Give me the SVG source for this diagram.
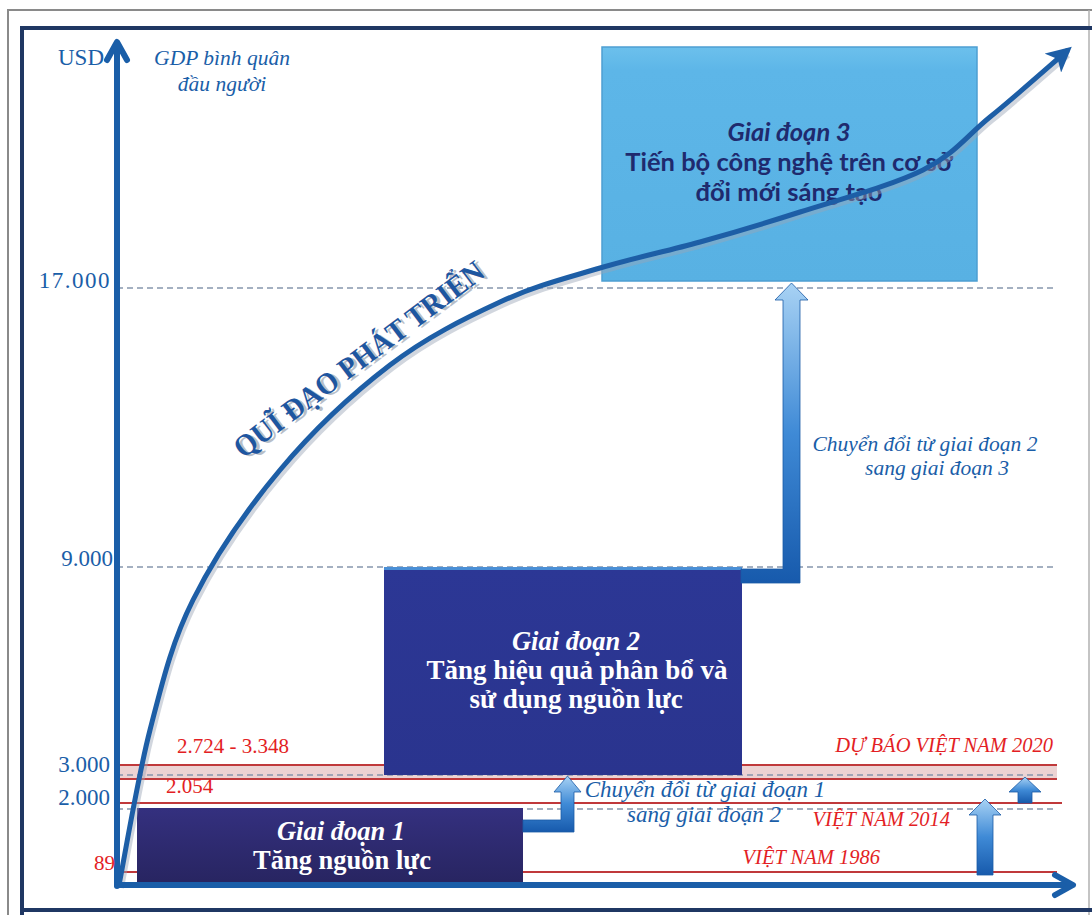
<svg xmlns="http://www.w3.org/2000/svg" width="1092" height="915" viewBox="0 0 1092 915">
<defs>
<style>
.tick{font-family:"Liberation Serif",serif;font-size:23px;fill:#1a5ea8}
.red{font-family:"Liberation Serif",serif;font-size:21px;fill:#e31e24}
.redi{font-family:"Liberation Serif",serif;font-size:20.5px;fill:#e31e24;font-style:italic}
.bluei{font-family:"Liberation Serif",serif;font-size:23px;fill:#1a5ea8;font-style:italic}
.bluei2{font-family:"Liberation Serif",serif;font-size:21.5px;fill:#1a5ea8;font-style:italic}
.gdp{font-family:"Liberation Serif",serif;font-size:21.5px;fill:#1a5ea8;font-style:italic;text-anchor:middle}
.wt{font-family:"Liberation Serif",serif;font-weight:bold;fill:#ffffff;text-anchor:middle}
.s3{font-family:Lato,"Open Sans",sans-serif;font-weight:bold;font-size:25.5px;fill:#1f2a6e;text-anchor:middle}
.dash{stroke:#8797ad;stroke-width:1.6;stroke-dasharray:6 4;fill:none}
.rl{stroke:#c0393b;stroke-width:2;fill:none}
.tarrow{fill:url(#ag);stroke:#1b5aa6;stroke-width:0.8}
.traj{font-family:"Liberation Serif",serif;font-weight:bold;font-size:30px}
</style>
<linearGradient id="ag" x1="0" y1="0" x2="0" y2="1">
<stop offset="0" stop-color="#a8d2f4"/>
<stop offset="0.5" stop-color="#3f8ad6"/>
<stop offset="1" stop-color="#175aac"/>
</linearGradient>
<linearGradient id="g1" x1="0" y1="0" x2="0" y2="1">
<stop offset="0" stop-color="#34307f"/>
<stop offset="1" stop-color="#27245f"/>
</linearGradient>
<linearGradient id="g2" x1="0" y1="0" x2="0" y2="1">
<stop offset="0" stop-color="#2c3795"/>
<stop offset="1" stop-color="#2a348e"/>
</linearGradient>
<linearGradient id="g3" x1="0" y1="0" x2="0" y2="1">
<stop offset="0" stop-color="#6cc0ec"/>
<stop offset="0.1" stop-color="#5db6e8"/>
<stop offset="1" stop-color="#58b1e3"/>
</linearGradient>
<marker id="head" viewBox="0 0 10 10" refX="8" refY="5" markerWidth="5" markerHeight="5" orient="auto" markerUnits="strokeWidth">
<path d="M0,0 L10,5 L0,10 L2.5,5 Z" fill="#1d5ea6"/>
</marker>
</defs>
<rect width="1092" height="915" fill="#ffffff"/>
<!-- frame -->
<g id="frame">
<path d="M8,915 V10 H1092" fill="none" stroke="#8a8a8a" stroke-width="2"/>
<line x1="1089" y1="10" x2="1089" y2="915" stroke="#b0b0b0" stroke-width="1.5"/>
<path d="M22,915 V28 H1092" fill="none" stroke="#1f3763" stroke-width="4"/>
<line x1="22" y1="910" x2="1092" y2="910" stroke="#1f3763" stroke-width="4"/>
</g>
<!-- guide lines -->
<g id="guides">
<rect x="120" y="765" width="937" height="14" fill="#ecd3d3"/>
<line class="dash" x1="117" y1="288" x2="1055" y2="288"/>
<line class="dash" x1="117" y1="567" x2="1055" y2="567"/>
<line class="dash" x1="117" y1="775" x2="1057" y2="775"/>
<line class="dash" x1="117" y1="809" x2="1057" y2="809"/>
<line class="rl" x1="120" y1="765" x2="1057" y2="765"/>
<line class="rl" x1="120" y1="779" x2="1057" y2="779"/>
<line class="rl" x1="120" y1="803" x2="1062" y2="803"/>
<line class="rl" x1="120" y1="872" x2="1057" y2="872"/>
</g>
<!-- stage boxes -->
<g id="stage1">
<rect x="137" y="808" width="386" height="79" fill="url(#g1)"/>
<text class="wt" x="341" y="840" font-size="26.5" font-style="italic">Giai đoạn 1</text>
<text class="wt" x="342" y="869" font-size="26.5">Tăng nguồn lực</text>
</g>
<g id="stage2">
<rect x="384" y="567" width="358" height="208" fill="url(#g2)"/>
<line x1="384" y1="568.5" x2="742" y2="568.5" stroke="#4a8fd6" stroke-width="3"/>
<text class="wt" x="576" y="650" font-size="26.5" font-style="italic">Giai đoạn 2</text>
<text class="wt" x="577" y="679" font-size="27">Tăng hiệu quả phân bổ và</text>
<text class="wt" x="576" y="708" font-size="27">sử dụng nguồn lực</text>
</g>
<g id="stage3">
<rect x="602" y="47" width="375" height="234" fill="url(#g3)" stroke="#4d9fd2" stroke-width="1.5"/>
<text class="s3" x="789" y="141" font-style="italic">Giai đoạn 3</text>
<text class="s3" x="789" y="171">Tiến bộ công nghệ trên cơ sở</text>
<text class="s3" x="789" y="201">đổi mới sáng tạo</text>
</g>
<!-- connectors -->
<g id="connectors">
<path class="tarrow" d="M523,820 H561 V792 H554 L567.5,776 L581,792 H574 V832 H523 Z"/>
<path class="tarrow" d="M741,569 H783 V300 H775 L791.5,283 L808,300 H800 V583 H741 Z"/>
<path class="tarrow" d="M977,875 V815 H969 L985,799 L1001,815 H993 V875 Z"/>
<path class="tarrow" d="M1018,803 V792 H1009 L1025,777 L1041,792 H1032 V803 Z"/>
</g>
<!-- trajectory curve -->
<g id="trajectory">
<path d="M119,885 C124.2,859.2 137.7,777.5 150,730 C162.3,682.5 171.3,643.3 193,600 C214.7,556.7 247.2,509.2 280,470 C312.8,430.8 353.3,393 390,365 C426.7,337 465,318.2 500,302 C535,285.8 566.7,278 600,268 C633.3,258 666.7,251.3 700,242 C733.3,232.7 762.8,224 800,212 C837.2,200 891.3,185.8 923,170 C954.7,154.2 966.3,136.2 990,117 C1013.7,97.8 1045,70 1066,52" fill="none" stroke="#9aa5b5" stroke-opacity="0.45" stroke-width="6" transform="translate(2,3)"/>
<path d="M119,885 C124.2,859.2 137.7,777.5 150,730 C162.3,682.5 171.3,643.3 193,600 C214.7,556.7 247.2,509.2 280,470 C312.8,430.8 353.3,393 390,365 C426.7,337 465,318.2 500,302 C535,285.8 566.7,278 600,268 C633.3,258 666.7,251.3 700,242 C733.3,232.7 762.8,224 800,212 C837.2,200 891.3,185.8 923,170 C954.7,154.2 966.3,136.2 990,117 C1013.7,97.8 1045,70 1068,50" fill="none" stroke="#1d5ea6" stroke-width="5" marker-end="url(#head)"/>
<text class="traj" x="243" y="459" transform="rotate(-37 243 459)" fill="#b8bec8" textLength="305" lengthAdjust="spacingAndGlyphs" dx="2" dy="3">QUĨ ĐẠO PHÁT TRIỂN</text>
<text class="traj" x="243" y="459" transform="rotate(-37 243 459)" fill="#1e56a0" textLength="305" lengthAdjust="spacingAndGlyphs">QUĨ ĐẠO PHÁT TRIỂN</text>
</g>
<!-- axes -->
<g id="axes" stroke="#1a5ea8" stroke-width="6" fill="none" stroke-linecap="round" stroke-linejoin="round">
<line x1="117" y1="886" x2="117" y2="44"/>
<polyline points="107,60 117,42 127,60"/>
<line x1="117" y1="885" x2="1070" y2="885"/>
<polyline points="1055,875 1073,885 1055,895"/>
</g>
<!-- labels -->
<g id="labels">
<text class="tick" x="58" y="65">USD</text>
<text class="gdp" x="222" y="65">GDP bình quân</text>
<text class="gdp" x="222" y="91">đầu người</text>
<text class="tick" x="111" y="288" text-anchor="end" letter-spacing="1.5">17.000</text>
<text class="tick" x="113" y="566" text-anchor="end">9.000</text>
<text class="tick" x="110" y="772" text-anchor="end">3.000</text>
<text class="tick" x="110" y="805" text-anchor="end">2.000</text>
<text class="red" x="177" y="753">2.724 - 3.348</text>
<text class="red" x="166" y="793">2.054</text>
<text class="red" x="115" y="870" text-anchor="end">89</text>
<text class="redi" x="1053" y="752" text-anchor="end">DỰ BÁO VIỆT NAM 2020</text>
<text class="redi" x="950" y="826" text-anchor="end">VIỆT NAM 2014</text>
<text class="redi" x="880" y="864" text-anchor="end">VIỆT NAM 1986</text>
<text class="bluei" x="705" y="797" text-anchor="middle">Chuyển đổi từ giai đoạn 1</text>
<text class="bluei" x="704" y="822" text-anchor="middle">sang giai đoạn 2</text>
<text class="bluei2" x="925" y="451" text-anchor="middle">Chuyển đổi từ giai đoạn 2</text>
<text class="bluei2" x="937" y="475" text-anchor="middle">sang giai đoạn 3</text>
</g>
</svg>
